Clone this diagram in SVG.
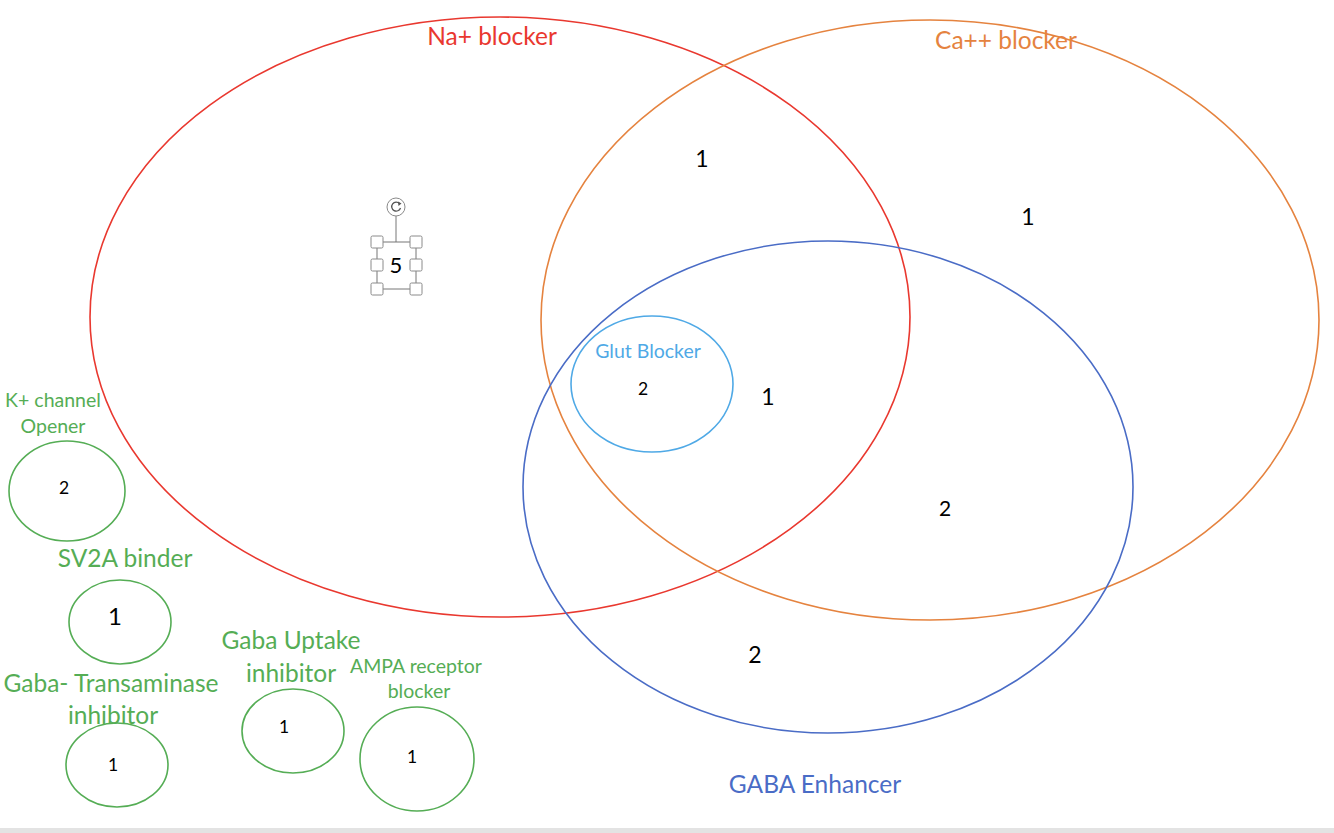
<svg xmlns="http://www.w3.org/2000/svg" width="1334" height="833" viewBox="0 0 1334 833">
<style>
text{font-family:Lato,"Open Sans","Liberation Sans",sans-serif;text-anchor:middle}
.set{fill:none;stroke-width:1.6}
.g{fill:none;stroke:#55ad55;stroke-width:1.6}
.gt{fill:#55ad55}
.n{fill:#000}
.big{font-size:24.5px}
.sm{font-size:19.5px}
.nb{font-size:23px}
.ns{font-size:17.5px}
.h{fill:#fff;stroke:#8a8a8a;stroke-width:1}
</style>
<rect width="1334" height="833" fill="#fff"/>
<rect x="0" y="828" width="1334" height="5" fill="#e3e3e3"/>
<g id="na-blocker">
<ellipse class="set" cx="500" cy="317" rx="410" ry="300" stroke="#e9382f"/>
<text class="big" x="492" y="45" fill="#e9382f">Na+ blocker</text>
</g>
<g id="ca-blocker">
<ellipse class="set" cx="930" cy="320" rx="389" ry="300" stroke="#e5833f"/>
<text class="big" x="1006" y="49" fill="#e5833f">Ca++ blocker</text>
</g>
<g id="gaba-enhancer">
<ellipse class="set" cx="828" cy="487" rx="305" ry="246" stroke="#4a6cc6"/>
<text class="big" x="815" y="793" fill="#4a6cc6">GABA Enhancer</text>
</g>
<g id="glut-blocker">
<ellipse class="set" cx="652" cy="384" rx="81" ry="68" stroke="#4fa9e6"/>
<text class="sm" x="648" y="358" fill="#4fa9e6">Glut Blocker</text>
<text class="n ns" x="643" y="395">2</text>
</g>
<g id="counts">
<text class="n nb" x="702" y="167">1</text>
<text class="n nb" x="1028" y="225">1</text>
<text class="n nb" x="768" y="405">1</text>
<text class="n" x="945" y="516" font-size="21">2</text>
<text class="n nb" x="755" y="663">2</text>
</g>
<g id="selected-label">
<line x1="396" y1="216" x2="396" y2="242" stroke="#777" stroke-width="1"/>
<rect x="377" y="242" width="39" height="47" fill="none" stroke="#777" stroke-width="1"/>
<circle cx="396" cy="207" r="9" fill="#fff" stroke="#8a8a8a"/>
<path d="M399.5 203.5 A4.5 4.5 0 1 0 400.5 208" fill="none" stroke="#555" stroke-width="1.3"/>
<path d="M398 201.5 L401.5 203.5 L398.5 206 Z" fill="#555"/>
<rect class="h" x="371" y="236" width="12" height="12" rx="1.5"/>
<rect class="h" x="410" y="236" width="12" height="12" rx="1.5"/>
<rect class="h" x="371" y="259" width="12" height="12" rx="1.5"/>
<rect class="h" x="410" y="259" width="12" height="12" rx="1.5"/>
<rect class="h" x="371" y="283" width="12" height="12" rx="1.5"/>
<rect class="h" x="410" y="283" width="12" height="12" rx="1.5"/>
<text class="n" x="396" y="273" font-size="22">5</text>
</g>
<g id="k-channel-opener">
<ellipse class="g" cx="67" cy="491" rx="58" ry="50"/>
<text class="gt sm" x="53" y="407">K+ channel</text>
<text class="gt sm" x="53" y="433">Opener</text>
<text class="n ns" x="64" y="494">2</text>
</g>
<g id="sv2a-binder">
<ellipse class="g" cx="120" cy="622" rx="51" ry="42"/>
<text class="gt big" x="125" y="567">SV2A binder</text>
<text class="n" x="115" y="625" font-size="24">1</text>
</g>
<g id="gaba-transaminase-inhibitor">
<ellipse class="g" cx="117" cy="765" rx="51" ry="42"/>
<text class="gt big" x="111" y="692">Gaba- Transaminase</text>
<text class="gt big" x="113" y="724">inhibitor</text>
<text class="n ns" x="113" y="771">1</text>
</g>
<g id="gaba-uptake-inhibitor">
<ellipse class="g" cx="293" cy="731" rx="51" ry="42"/>
<text class="gt big" x="291" y="649">Gaba Uptake</text>
<text class="gt big" x="291" y="682">inhibitor</text>
<text class="n ns" x="284" y="733">1</text>
</g>
<g id="ampa-receptor-blocker">
<ellipse class="g" cx="417" cy="759" rx="57" ry="52"/>
<text class="gt sm" x="416" y="673">AMPA receptor</text>
<text class="gt sm" x="419" y="698">blocker</text>
<text class="n ns" x="412" y="763">1</text>
</g>
</svg>
